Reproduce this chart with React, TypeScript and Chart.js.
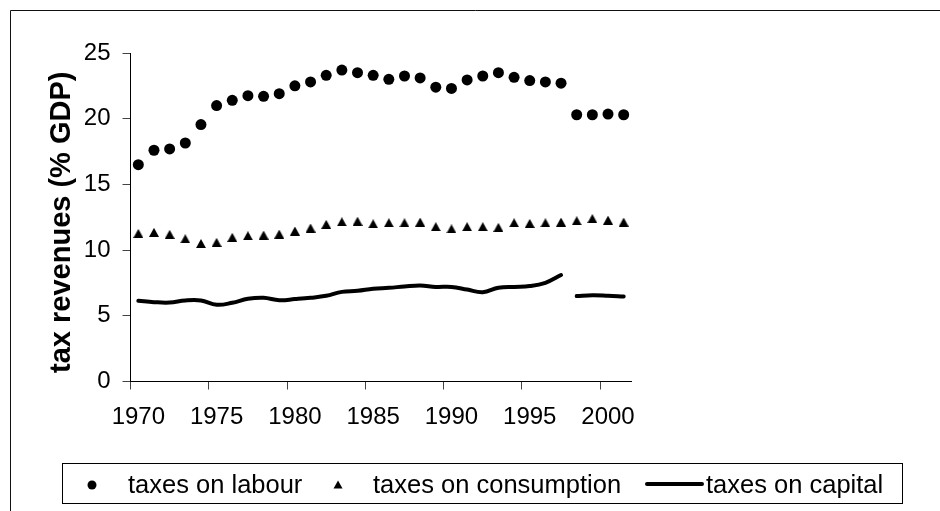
import React, { useEffect, useRef } from 'react';
import { Chart, registerables } from 'chart.js';

Chart.register(...registerables);

const years = [
  1970, 1971, 1972, 1973, 1974, 1975, 1976, 1977, 1978, 1979,
  1980, 1981, 1982, 1983, 1984, 1985, 1986, 1987, 1988, 1989,
  1990, 1991, 1992, 1993, 1994, 1995, 1996, 1997, 1998, 1999,
  2000, 2001,
];

const labour = [
  16.5, 17.6, 17.7, 18.15, 19.55, 21.0, 21.4, 21.75, 21.7, 21.9,
  22.5, 22.8, 23.3, 23.7, 23.5, 23.3, 23.0, 23.25, 23.1, 22.4,
  22.3, 22.95, 23.25, 23.5, 23.15, 22.9, 22.8, 22.7, 20.3, 20.3,
  20.35, 20.3,
];

const consumption = [
  11.27, 11.35, 11.2, 10.86, 10.5, 10.59, 10.97, 11.09, 11.14, 11.22,
  11.45, 11.68, 11.96, 12.15, 12.2, 12.0, 12.08, 12.08, 12.13, 11.78,
  11.62, 11.78, 11.78, 11.73, 12.08, 12.03, 12.08, 12.13, 12.23, 12.4,
  12.28, 12.13,
];

const capital = [
  6.14, 6.04, 6.01, 6.17, 6.17, 5.84, 5.99, 6.29, 6.37, 6.19,
  6.27, 6.37, 6.52, 6.82, 6.9, 7.06, 7.13, 7.23, 7.31, 7.2,
  7.2, 7.0, 6.8, 7.13, 7.2, 7.26, 7.51, 8.1, 6.5, 6.57,
  6.53, 6.47,
];

// the capital line is broken between this year and the next
const capitalBreakAfter = 1997;

const seriesNames = ['taxes on labour', 'taxes on consumption', 'taxes on capital'];
const yMin = 0;
const yMax = 25;
const yStep = 5;
const xLabelEvery = 5;
const yTitle = 'tax revenues (% GDP)';

const FONT = '"Liberation Sans", Arial, Helvetica, sans-serif';

function makeTriangle(w: number, h: number): HTMLCanvasElement {
  const c = document.createElement('canvas');
  c.width = w;
  c.height = h;
  const g = c.getContext('2d')!;
  g.fillStyle = '#000';
  g.beginPath();
  g.moveTo(w / 2, 0);
  g.lineTo(w, h);
  g.lineTo(0, h);
  g.closePath();
  g.fill();
  return c;
}

const decorPlugin = {
  id: 'decor',
  afterDraw(chart: any) {
    const ctx = chart.ctx as CanvasRenderingContext2D;
    const area = chart.chartArea;
    ctx.save();
    // outer chart frame (only left and top edges are inside the picture)
    ctx.strokeStyle = '#111';
    ctx.lineWidth = 1;
    ctx.beginPath();
    ctx.moveTo(10.5, 511);
    ctx.lineTo(10.5, 10.5);
    ctx.lineTo(940, 10.5);
    ctx.stroke();

    // y axis title
    ctx.save();
    ctx.translate(61.5, (area.top + area.bottom) / 2 + 5);
    ctx.rotate(-Math.PI / 2);
    ctx.fillStyle = '#000';
    ctx.font = `bold 29px ${FONT}`;
    ctx.textAlign = 'center';
    ctx.textBaseline = 'middle';
    ctx.fillText(yTitle, 0, 0);
    ctx.restore();

    // legend box
    ctx.strokeStyle = '#000';
    ctx.lineWidth = 1;
    ctx.strokeRect(62.5, 463.5, 840, 40);

    const ds = chart.data.datasets;
    ctx.fillStyle = '#000';
    ctx.font = `25.5px ${FONT}`;
    ctx.textBaseline = 'alphabetic';
    ctx.textAlign = 'left';
    const base = 493;
    const my = 485;

    // labour: dot
    ctx.beginPath();
    ctx.arc(92, my, 4.5, 0, Math.PI * 2);
    ctx.fill();
    ctx.fillText(ds[0].label, 128, base);

    // consumption: triangle
    ctx.beginPath();
    ctx.moveTo(338, my - 4.5);
    ctx.lineTo(342.5, my + 3.5);
    ctx.lineTo(333.5, my + 3.5);
    ctx.closePath();
    ctx.fill();
    ctx.fillText(ds[1].label, 373, base);

    // capital: line
    ctx.strokeStyle = '#000';
    ctx.lineWidth = 4;
    ctx.lineCap = 'round';
    ctx.beginPath();
    ctx.moveTo(647, 484);
    ctx.lineTo(702, 484);
    ctx.stroke();
    ctx.fillText(ds[2].label, 706, base);

    ctx.restore();
  },
};

export default function App() {
  const ref = useRef<HTMLCanvasElement | null>(null);

  useEffect(() => {
    if (!ref.current) return;
    const tri = makeTriangle(10, 9);

    const capitalBefore = capital.map((v, i) => (years[i] <= capitalBreakAfter ? v : null));
    const capitalAfter = capital.map((v, i) => (years[i] > capitalBreakAfter ? v : null));

    const lineStyle = {
      borderColor: '#000',
      borderWidth: 4,
      borderCapStyle: 'round',
      borderJoinStyle: 'round',
      tension: 0.4,
      pointRadius: 0,
      fill: false,
      spanGaps: false,
    };

    const chart = new Chart(ref.current, {
      type: 'line',
      data: {
        labels: years.map(String),
        datasets: [
          {
            label: seriesNames[0],
            data: labour,
            showLine: false,
            pointStyle: 'circle',
            pointRadius: 5.5,
            pointBackgroundColor: '#000',
            pointBorderWidth: 0,
            borderColor: '#000',
          },
          {
            label: seriesNames[1],
            data: consumption,
            showLine: false,
            pointStyle: tri as any,
            pointRadius: 5,
            pointBackgroundColor: '#000',
            pointBorderWidth: 0,
            borderColor: '#000',
          },
          { label: seriesNames[2], data: capitalBefore, ...lineStyle } as any,
          { label: seriesNames[2], data: capitalAfter, ...lineStyle } as any,
        ],
      },
      options: {
        responsive: false,
        devicePixelRatio: 1,
        animation: false,
        events: [],
        layout: {
          padding: { left: 0, right: 308.5, top: 53, bottom: 69.5 },
        },
        plugins: {
          legend: { display: false },
          tooltip: { enabled: false },
          title: { display: false },
        },
        scales: {
          x: {
            type: 'category',
            offset: true,
            grid: {
              display: true,
              drawOnChartArea: false,
              drawTicks: true,
              tickLength: 8,
              offset: true,
              color: (c: any) =>
                c.index < years.length && years[c.index] % xLabelEvery === 0 ? '#444' : 'rgba(0,0,0,0)',
              tickColor: (c: any) =>
                c.index < years.length && years[c.index] % xLabelEvery === 0 ? '#444' : 'rgba(0,0,0,0)',
            },
            border: { display: true, color: '#000', width: 1 },
            ticks: {
              autoSkip: false,
              maxRotation: 0,
              minRotation: 0,
              padding: 13,
              color: '#000',
              font: { family: FONT, size: 24 },
              callback: (_v: any, i: number) =>
                years[i] % xLabelEvery === 0 ? String(years[i]) : '',
            },
            afterFit: (s: any) => {
              s.height = 60;
            },
          },
          y: {
            type: 'linear',
            min: yMin,
            max: yMax,
            grid: {
              display: true,
              drawOnChartArea: false,
              drawTicks: true,
              tickLength: 8,
              color: '#444',
              tickColor: '#444',
            },
            border: { display: true, color: '#000', width: 1 },
            ticks: {
              stepSize: yStep,
              padding: 12,
              color: '#000',
              font: { family: FONT, size: 24 },
            },
            afterFit: (s: any) => {
              s.width = 130.5;
            },
          },
        },
      },
      plugins: [decorPlugin],
    });

    return () => chart.destroy();
  }, []);

  return (
    <div style={{ position: 'absolute', left: 0, top: 0, width: 940, height: 511, background: '#fff' }}>
      <canvas ref={ref} width={940} height={511} style={{ display: 'block' }} />
    </div>
  );
}
